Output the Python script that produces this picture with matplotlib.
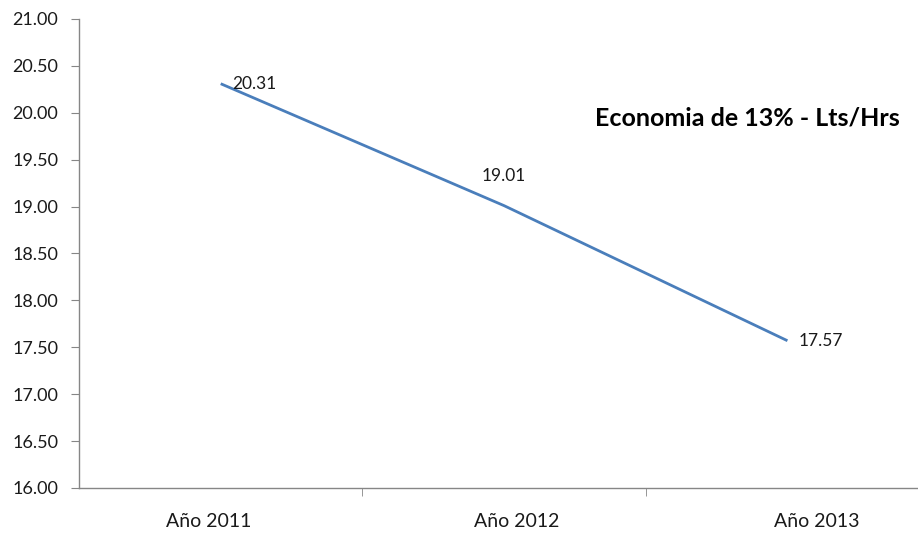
import matplotlib.pyplot as plt
from matplotlib.transforms import ScaledTranslation

# Datos
anios = ["Año 2011", "Año 2012", "Año 2013"]
consumo = [20.31, 19.01, 17.57]
titulo = "Economia de 13% - Lts/Hrs"

plt.rcParams["font.family"] = ["Lato", "DejaVu Sans"]

fig = plt.figure(figsize=(9.18, 5.35), dpi=100)
ax = fig.add_axes([0.0861, 0.0879, 0.926, 0.8766])

x = range(len(anios))
ax.plot(x, consumo, color="#4A7EBB", linewidth=2.0, solid_capstyle="butt")

# Etiquetas de datos
offsets = [(12, 0, "left", "center"), (0, 22, "center", "bottom"), (11, 0, "left", "center")]
for xi, v, (dx, dy, ha, va) in zip(x, consumo, offsets):
    ax.annotate(f"{v:.2f}", (xi, v), xytext=(dx, dy), textcoords="offset pixels",
                ha=ha, va=va, fontsize=12.5, color="#1a1a1a")

ax.set_xlim(-0.5, 2.5)
ax.set_ylim(16, 21)
ax.set_yticks([16 + 0.5 * i for i in range(11)])
ax.set_yticklabels([f"{16 + 0.5 * i:.2f}" for i in range(11)])

ax.set_xticks(list(x))
ax.set_xticklabels(anios)
ax.set_xticks([0.5, 1.5], minor=True)
ax.tick_params(axis="x", which="major", length=0, pad=18, labelsize=14, labelcolor="#1a1a1a")
ax.tick_params(axis="x", which="minor", length=6, color="#868686", direction="out")
ax.tick_params(axis="y", length=6, color="#868686", pad=9, labelsize=13, labelcolor="#1a1a1a")

# desplazamiento de etiquetas como en el original
shifts = [-12, 13, 29]
for lbl, s in zip(ax.get_xticklabels(), shifts):
    lbl.set_transform(lbl.get_transform() + ScaledTranslation(s / 100, 0, fig.dpi_scale_trans))

for side in ["top", "right"]:
    ax.spines[side].set_visible(False)
for side in ["left", "bottom"]:
    ax.spines[side].set_color("#868686")
    ax.spines[side].set_linewidth(1.0)

fig.text(900 / 918, 1 - 118 / 535, titulo, ha="right", va="center",
         fontsize=18, fontweight="bold", color="#000000")

fig.savefig("out.png", dpi=100)
